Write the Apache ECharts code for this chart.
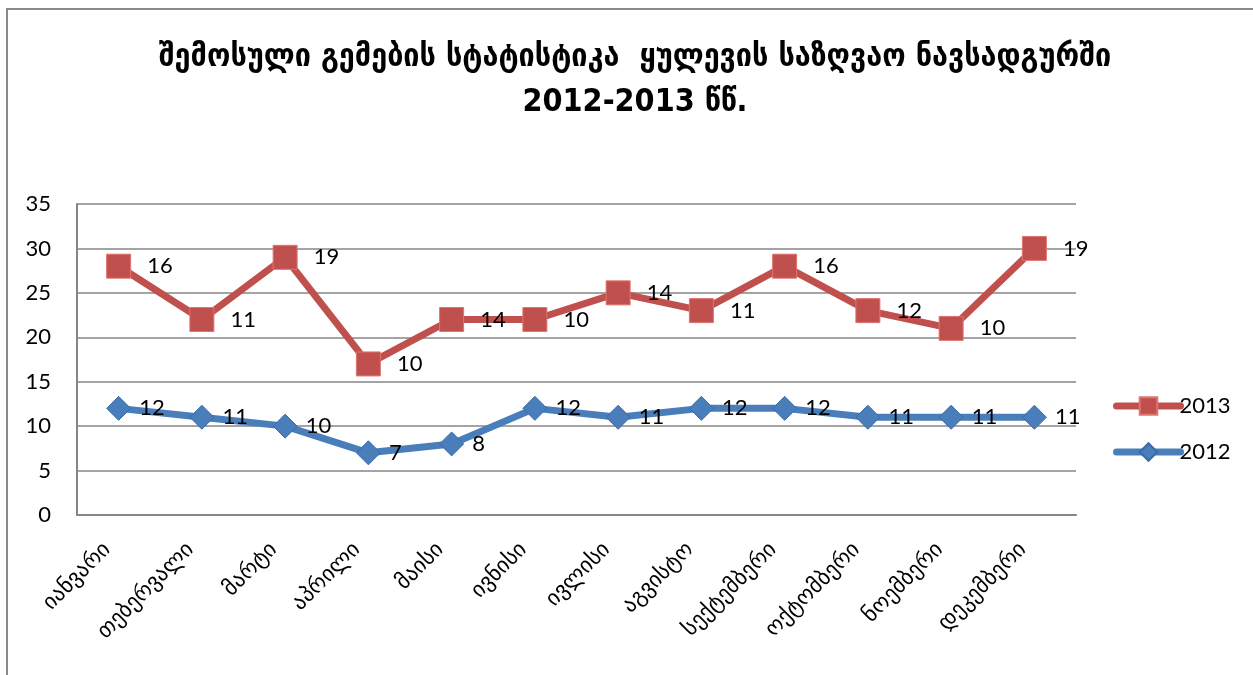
<!DOCTYPE html>
<html><head><meta charset="utf-8">
<script src="https://cdn.jsdelivr.net/npm/echarts@6/dist/echarts.min.js"></script>
<style>
html,body{margin:0;padding:0;background:#fff;}
#frame{position:absolute;left:6px;top:8px;width:1260px;height:700px;border:2px solid #8a8a8a;box-sizing:border-box;}
#c{position:absolute;left:0;top:0;width:1253px;height:675px;}
</style></head><body>
<div id="frame"></div>
<div id="c"></div>
<script>
const categories = ['იანვარი','თებერვალი','მარტი','აპრილი','მაისი','ივნისი','ივლისი','აგვისტო','სექტემბერი','ოქტომბერი','ნოემბერი','დეკემბერი'];
const values2012 = [12,11,10,7,8,12,11,12,12,11,11,11];
const values2013 = [16,11,19,10,14,10,14,11,16,12,10,19];
const titleLines = ['შემოსული გემების სტატისტიკა  ყულევის საზღვაო ნავსადგურში','2012-2013 წწ.'];

const chart = echarts.init(document.getElementById('c'));
const numFont = 'Lato, "Open Sans", sans-serif';
const geoFont = '"DejaVu Sans", sans-serif';
chart.setOption({
  animation:false,
  title:{text:titleLines.join('\n'),left:630,textAlign:'center',top:30,
    textStyle:{fontFamily:'"DejaVu Sans Condensed", "DejaVu Sans", sans-serif',fontSize:32,fontWeight:'bold',color:'#000',lineHeight:45}},
  legend:{orient:'vertical',left:1108,top:390,itemGap:24,itemWidth:64,itemHeight:22,
    data:['2013','2012'],
    lineStyle:{width:7,cap:'round'},
    textStyle:{fontFamily:numFont,fontSize:22,color:'#000',padding:[0,0,0,-6]}},
  grid:{left:77,right:177,top:204,bottom:160},
  xAxis:{type:'category',data:categories,boundaryGap:true,
    axisLine:{lineStyle:{color:'#868686',width:2}},
    axisTick:{show:false},
    axisLabel:{rotate:45,interval:0,fontFamily:geoFont,fontSize:22,color:'#000',margin:20,padding:[0,16,0,0]}},
  yAxis:{type:'value',min:0,max:35,interval:5,
    axisLine:{show:true,lineStyle:{color:'#868686',width:2}},
    axisTick:{show:false},
    splitLine:{lineStyle:{color:'#868686',width:1.5}},
    axisLabel:{fontFamily:numFont,fontSize:22,color:'#000',margin:26}},
  series:[
    {name:'2012',type:'line',stack:'total',data:values2012,
      symbol:'diamond',symbolSize:24,
      lineStyle:{width:7,color:'#4a7ebb'},
      itemStyle:{color:'#4a7ebb',borderColor:'#3a6aa8',borderWidth:1},
      label:{show:true,position:'right',distance:8,fontFamily:numFont,fontSize:22,color:'#000'}},
    {name:'2013',type:'line',stack:'total',data:values2013,
      symbol:'rect',symbolSize:24,
      lineStyle:{width:7,color:'#c0504d'},
      itemStyle:{color:'#c0504d',borderColor:'#e07470',borderWidth:1},
      label:{show:true,position:'right',distance:16,fontFamily:numFont,fontSize:22,color:'#000'}}
  ]
});
</script></body></html>
